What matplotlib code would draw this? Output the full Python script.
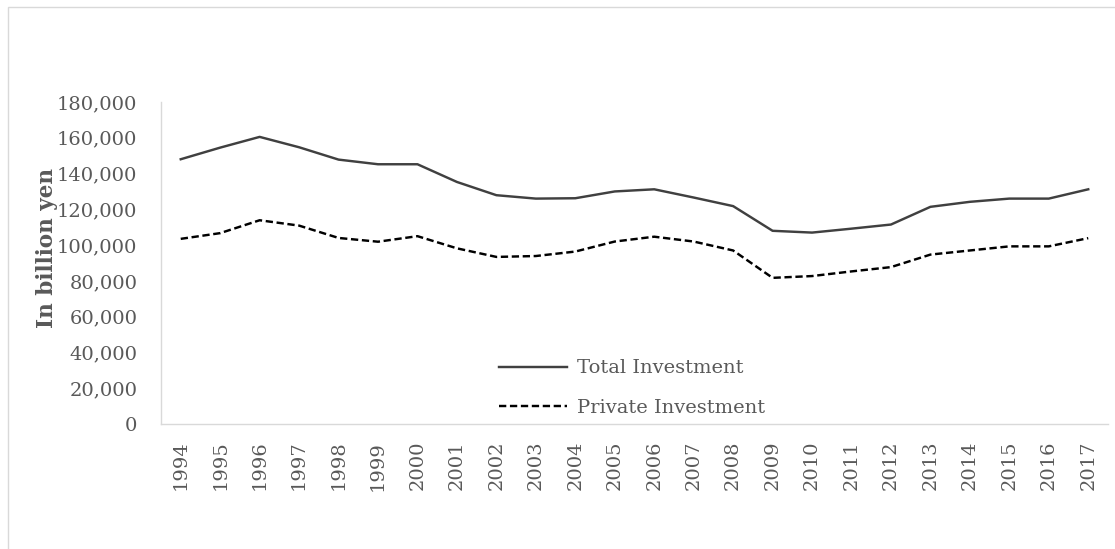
import numpy as np
import matplotlib
matplotlib.use("Agg")
from matplotlib import pyplot as plt
from matplotlib.patches import Rectangle
from matplotlib.ticker import FuncFormatter

years = [str(y) for y in range(1994, 2018)]
total_investment = [148000, 154500, 160500, 154700, 147800, 145200, 145200, 135300,
                    127900, 126000, 126200, 130000, 131200, 126600, 121800, 108000,
                    107000, 109200, 111500, 121400, 124200, 126000, 126000, 131200]
private_investment = [103500, 106700, 113900, 110900, 104000, 101900, 105000, 98200,
                      93400, 93900, 96400, 102000, 104700, 102000, 97000, 81700,
                      82700, 85300, 87700, 94700, 97000, 99300, 99300, 103900]

text_gray = '#595959'
plt.rcParams['font.family'] = ['DejaVu Serif']

fig = plt.figure(figsize=(11.15, 5.49), dpi=100)
ax = fig.add_axes([0.1444, 0.2277, 0.8493, 0.5865])

x = np.arange(len(years))
ax.plot(x, total_investment, color='#404040', lw=1.75, label='Total Investment')
priv, = ax.plot(x, private_investment, color='black', lw=1.75, label='Private Investment')
priv.set_dashes((3, 1.5))

ax.set_xlim(-0.5, len(years) - 0.5)
ax.set_ylim(0, 180000)
ax.set_yticks(np.arange(0, 180001, 20000))
ax.yaxis.set_major_formatter(FuncFormatter(lambda v, p: f'{int(v):,}'))
ax.set_xticks(x)
ax.set_xticklabels(years, rotation=90)
ax.tick_params(axis='both', length=0, labelsize=14, colors=text_gray)
ax.tick_params(axis='y', pad=17)
ax.tick_params(axis='x', pad=12)

for s in ['top', 'right']:
    ax.spines[s].set_visible(False)
for s in ['left', 'bottom']:
    ax.spines[s].set_color('#d9d9d9')
    ax.spines[s].set_linewidth(1.0)

fig.text(47 / 1115, 0.549, 'In billion yen', rotation=90, ha='center', va='center',
         fontsize=15.5, fontweight='bold', color=text_gray)

leg = ax.legend(loc='center', bbox_to_anchor=(0.567, 0.293), bbox_transform=fig.transFigure,
                frameon=False, fontsize=14, handlelength=3.5, handletextpad=0.5,
                labelspacing=1.1, borderpad=0)
for t in leg.get_texts():
    t.set_color(text_gray)

fig.patches.append(Rectangle((8 / 1115, -0.1), 1.2, 1.1 - 7 / 549, transform=fig.transFigure,
                             fill=False, edgecolor='#d9d9d9', lw=1.0))

fig.savefig('out.png', dpi=100)
